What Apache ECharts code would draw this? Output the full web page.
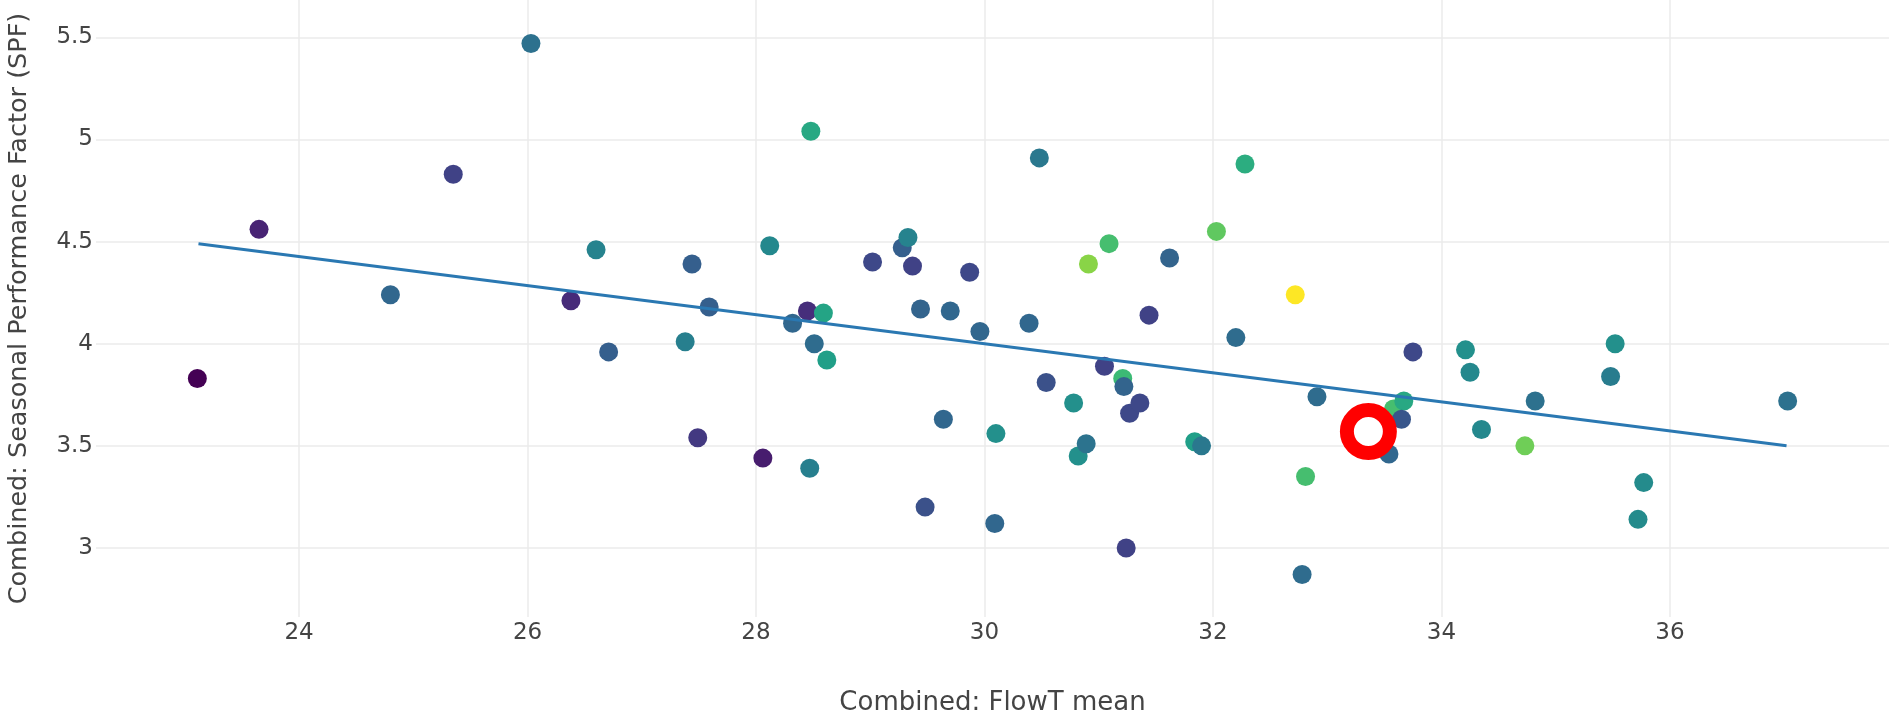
<!DOCTYPE html>
<html>
<head>
<meta charset="utf-8">
<script src="https://cdn.jsdelivr.net/npm/echarts@6/dist/echarts.min.js"></script>
<style>
  html, body { margin: 0; padding: 0; background: #fff; }
  #chart { width: 1893px; height: 721px; }
</style>
</head>
<body>
<div id="chart"></div>
<script>
// FlowT mean per system (x), SPF (y) and the colour value (0..1, viridis)
const flowT = [
  23.11, 23.65, 24.80, 25.35, 26.03, 26.38, 26.60, 26.71, 27.38, 27.44,
  27.49, 27.59, 28.06, 28.12, 28.32, 28.48, 28.45, 28.47, 28.51, 28.59,
  28.62, 29.02, 29.28, 29.33, 29.37, 29.44, 29.48, 29.64, 29.70, 29.87,
  29.96, 30.10, 30.09, 30.39, 30.48, 30.54, 30.78, 30.82, 30.89, 30.91,
  31.05, 31.09, 31.21, 31.22, 31.24, 31.27, 31.36, 31.44, 31.62, 31.84,
  31.90, 32.03, 32.20, 32.28, 32.72, 32.78, 32.81, 32.91, 33.54, 33.58,
  33.67, 33.65, 33.75, 34.21, 34.25, 34.35, 34.73, 34.82, 35.52, 35.48,
  35.77, 35.72, 37.03
]
const spf = [
  3.83, 4.56, 4.24, 4.83, 5.47, 4.21, 4.46, 3.96, 4.01, 4.39,
  3.54, 4.18, 3.44, 4.48, 4.10, 5.04, 4.16, 3.39, 4.00, 4.15,
  3.92, 4.40, 4.47, 4.52, 4.38, 4.17, 3.20, 3.63, 4.16, 4.35,
  4.06, 3.56, 3.12, 4.10, 4.91, 3.81, 3.71, 3.45, 3.51, 4.39,
  3.89, 4.49, 3.83, 3.79, 3.00, 3.66, 3.71, 4.14, 4.42, 3.52,
  3.50, 4.55, 4.03, 4.88, 4.24, 2.87, 3.35, 3.74, 3.46, 3.68,
  3.72, 3.63, 3.96, 3.97, 3.86, 3.58, 3.50, 3.72, 4.00, 3.84,
  3.32, 3.14, 3.72
]
const colourVal = [
  0.00, 0.10, 0.33, 0.20, 0.37, 0.12, 0.45, 0.30, 0.43, 0.30,
  0.17, 0.30, 0.08, 0.47, 0.33, 0.60, 0.13, 0.43, 0.35, 0.58,
  0.56, 0.22, 0.30, 0.45, 0.20, 0.32, 0.25, 0.33, 0.33, 0.22,
  0.33, 0.50, 0.33, 0.33, 0.40, 0.25, 0.50, 0.50, 0.38, 0.82,
  0.20, 0.70, 0.68, 0.32, 0.20, 0.22, 0.22, 0.20, 0.32, 0.56,
  0.40, 0.75, 0.35, 0.62, 1.00, 0.35, 0.70, 0.35, 0.33, 0.70,
  0.60, 0.27, 0.22, 0.50, 0.47, 0.47, 0.78, 0.37, 0.50, 0.42,
  0.48, 0.48, 0.37
]

// fitted trend line end points
const trendX = [23.12, 37.02]
const trendY = [4.49, 3.50]

// highlighted system (red ring)
const highlight = [33.36, 3.57]

const viridis = ['#440154', '#482878', '#3e4989', '#31688e', '#26828e',
  '#1f9e89', '#35b779', '#6ece58', '#b5de2b', '#fde725']

const points = flowT.map((x, i) => [x, spf[i], colourVal[i]])
const trend = trendX.map((x, i) => [x, trendY[i]])

const textColor = '#444'
const gridColor = '#ebebeb'

const chart = echarts.init(document.getElementById('chart'))
chart.setOption({
  animation: false,
  grid: { left: 96, right: 4, top: 0, bottom: 104, outerBoundsMode: 'none', containLabel: false },
  visualMap: {
    show: false,
    type: 'continuous',
    seriesIndex: 0,
    dimension: 2,
    min: 0,
    max: 1,
    inRange: { color: viridis }
  },
  xAxis: {
    type: 'value',
    min: 22.223,
    max: 37.917,
    splitNumber: 8,
    name: 'Combined: FlowT mean',
    nameLocation: 'middle',
    nameGap: 73,
    nameTextStyle: { color: textColor, fontFamily: 'DejaVu Sans', fontSize: 26 },
    axisLine: { show: false },
    axisTick: { show: false },
    axisLabel: {
      color: textColor, fontFamily: 'DejaVu Sans', fontSize: 23, margin: 5,
      showMinLabel: false, showMaxLabel: false
    },
    splitLine: { lineStyle: { color: gridColor, width: 1.5 }, showMinLine: false, showMaxLine: false }
  },
  yAxis: {
    type: 'value',
    min: 2.662,
    max: 5.683,
    splitNumber: 6,
    name: 'Combined: Seasonal Performance Factor (SPF)',
    nameLocation: 'middle',
    nameGap: 64,
    nameTextStyle: { color: textColor, fontFamily: 'DejaVu Sans', fontSize: 25.5 },
    axisLine: { show: false },
    axisTick: { show: false },
    axisLabel: {
      color: textColor, fontFamily: 'DejaVu Sans', fontSize: 23, margin: 3,
      showMinLabel: false, showMaxLabel: false
    },
    splitLine: { lineStyle: { color: gridColor, width: 1.5 }, showMinLine: false, showMaxLine: false }
  },
  series: [
    {
      type: 'scatter',
      data: points,
      symbolSize: 19,
      itemStyle: { opacity: 1 },
      z: 2
    },
    {
      type: 'line',
      data: trend,
      showSymbol: false,
      symbol: 'none',
      lineStyle: { color: '#2a78b2', width: 3 },
      z: 3
    },
    {
      type: 'scatter',
      data: [highlight],
      symbolSize: 43,
      itemStyle: { color: '#fff', borderColor: '#ff0000', borderWidth: 14, opacity: 1 },
      z: 4
    }
  ]
})
</script>
</body>
</html>
